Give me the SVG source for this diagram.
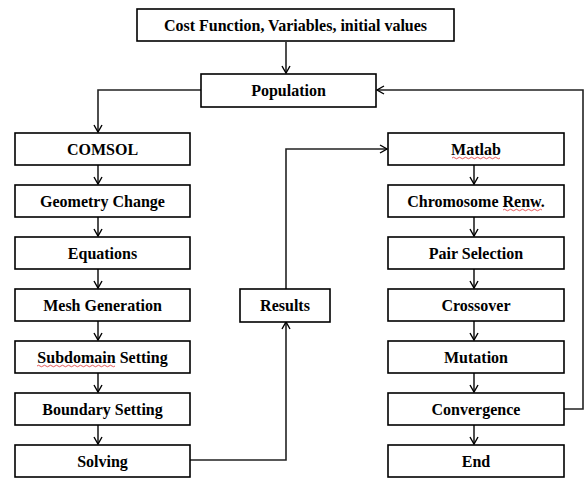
<svg xmlns="http://www.w3.org/2000/svg" width="586" height="478" viewBox="0 0 586 478">
<defs>
<marker id="ah" markerWidth="10" markerHeight="10" refX="8" refY="5" orient="auto" markerUnits="userSpaceOnUse">
<path d="M1,1 L8,5 L1,9" fill="none" stroke="#000" stroke-width="1.4"/>
</marker>
<style>
.box{fill:#fff;stroke:#000;stroke-width:1.6}
.t{font-family:"Liberation Serif","Times New Roman",serif;font-weight:bold;font-size:16px;fill:#000;text-anchor:middle}
.c{fill:none;stroke:#222;stroke-width:1.6;marker-end:url(#ah)}
.sq{fill:none;stroke:#e03030;stroke-width:0.8}
</style>
</defs>
<rect width="586" height="478" fill="#fff"/>
<g id="connectors">
<path class="c" d="M286,42 V73"/>
<path class="c" d="M201,90 H98 V132"/>
<path class="c" d="M98,165 V184"/>
<path class="c" d="M98,217 V236"/>
<path class="c" d="M98,269 V288"/>
<path class="c" d="M98,321 V340"/>
<path class="c" d="M98,373 V392"/>
<path class="c" d="M98,425 V444"/>
<path class="c" d="M190,460 H286 V322"/>
<path class="c" d="M286,289 V149 H387"/>
<path class="c" d="M474,165 V184"/>
<path class="c" d="M474,217 V236"/>
<path class="c" d="M474,269 V288"/>
<path class="c" d="M474,321 V340"/>
<path class="c" d="M474,373 V392"/>
<path class="c" d="M474,425 V444"/>
<path class="c" d="M564,409 H583 V90 H377"/>
</g>
<g id="start"><rect class="box" x="137" y="9" width="317" height="32"/><text class="t" x="295.5" y="30.5">Cost Function, Variables, initial values</text></g>
<g id="population"><rect class="box" x="201" y="74" width="175" height="33"/><text class="t" x="288.5" y="96">Population</text></g>
<g id="comsol"><rect class="box" x="15" y="133" width="175" height="32"/><text class="t" x="102.5" y="154.5">COMSOL</text></g>
<g id="geometry"><rect class="box" x="15" y="185" width="175" height="32"/><text class="t" x="102.5" y="206.5">Geometry Change</text></g>
<g id="equations"><rect class="box" x="15" y="237" width="175" height="32"/><text class="t" x="102.5" y="258.5">Equations</text></g>
<g id="mesh"><rect class="box" x="15" y="289" width="175" height="32"/><text class="t" x="102.5" y="310.5">Mesh Generation</text></g>
<g id="subdomain"><rect class="box" x="15" y="341" width="175" height="32"/><text class="t" x="102.5" y="362.5">Subdomain Setting</text><path class="sq" d="M37,366 q1.5,-1.5 3,0 t3,0 t3,0 t3,0 t3,0 t3,0 t3,0 t3,0 t3,0 t3,0 t3,0 t3,0 t3,0 t3,0 t3,0 t3,0 t3,0 t3,0 t3,0 t3,0 t3,0 t3,0 t3,0 t3,0 t3,0 t3,0"/></g>
<g id="boundary"><rect class="box" x="15" y="393" width="175" height="32"/><text class="t" x="102.5" y="414.5">Boundary Setting</text></g>
<g id="solving"><rect class="box" x="15" y="445" width="175" height="32"/><text class="t" x="102.5" y="466.5">Solving</text></g>
<g id="results"><rect class="box" x="240" y="289" width="90" height="33"/><text class="t" x="285" y="310.5">Results</text></g>
<g id="matlab"><rect class="box" x="388" y="133" width="176" height="32"/><text class="t" x="476" y="154.5">Matlab</text><path class="sq" d="M452,158 q1.5,-1.5 3,0 t3,0 t3,0 t3,0 t3,0 t3,0 t3,0 t3,0 t3,0 t3,0 t3,0 t3,0 t3,0 t3,0 t3,0 t3,0"/></g>
<g id="chromosome"><rect class="box" x="388" y="185" width="176" height="32"/><text class="t" x="476" y="206.5">Chromosome Renw.</text><path class="sq" d="M503,210 q1.5,-1.5 3,0 t3,0 t3,0 t3,0 t3,0 t3,0 t3,0 t3,0 t3,0 t3,0 t3,0 t3,0 t3,0"/></g>
<g id="pair"><rect class="box" x="388" y="237" width="176" height="32"/><text class="t" x="476" y="258.5">Pair Selection</text></g>
<g id="crossover"><rect class="box" x="388" y="289" width="176" height="32"/><text class="t" x="476" y="310.5">Crossover</text></g>
<g id="mutation"><rect class="box" x="388" y="341" width="176" height="32"/><text class="t" x="476" y="362.5">Mutation</text></g>
<g id="convergence"><rect class="box" x="388" y="393" width="176" height="32"/><text class="t" x="476" y="414.5">Convergence</text></g>
<g id="end"><rect class="box" x="388" y="445" width="176" height="32"/><text class="t" x="476" y="466.5">End</text></g>
</svg>
